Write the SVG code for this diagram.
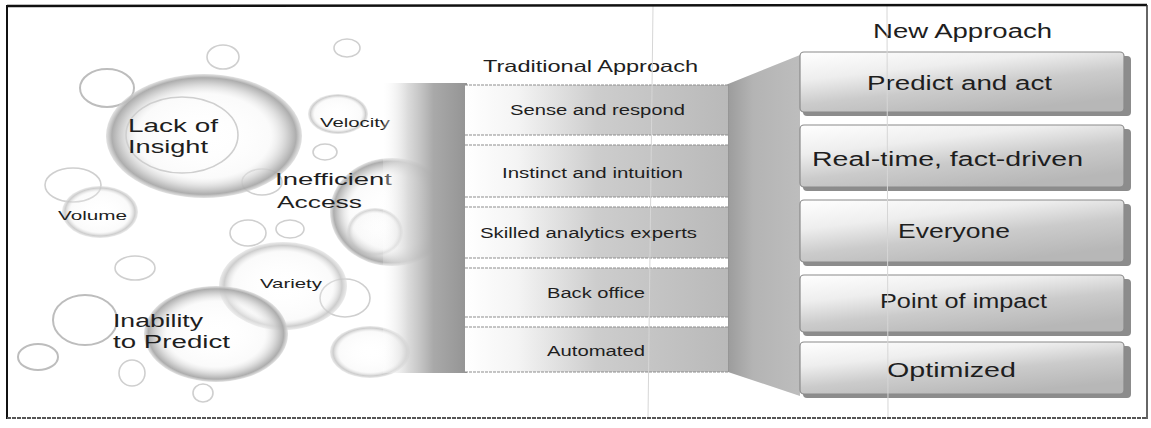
<svg xmlns="http://www.w3.org/2000/svg" width="1151" height="428" viewBox="0 0 1151 428">
<style>
  .t { font-family: "Liberation Sans", Arial, sans-serif; fill: #1e1e1e; }
  .ring { fill: none; stroke: #bdbdbd; stroke-width: 2; }
  .ringl { fill: none; stroke: #cfcfcf; stroke-width: 1.6; }
  .row { fill: url(#rowGrad); }
  .rowedge { stroke: #8d8d8d; stroke-width: 1; stroke-dasharray: 3 1; }
  .box { fill: url(#boxGrad); stroke: #8a8a8a; stroke-width: 1.2; }
  .boxshadow { fill: #8c8c8c; }
</style>
<defs>
  <radialGradient id="gloss" cx="0.5" cy="0.5" r="0.5">
    <stop offset="0" stop-color="#ffffff" stop-opacity="0"/>
    <stop offset="0.68" stop-color="#f2f2f2" stop-opacity="0.35"/>
    <stop offset="0.84" stop-color="#cdcdcd" stop-opacity="0.85"/>
    <stop offset="0.94" stop-color="#a9a9a9" stop-opacity="0.95"/>
    <stop offset="1" stop-color="#d6d6d6" stop-opacity="0.7"/>
  </radialGradient>
  <radialGradient id="softring" cx="0.5" cy="0.5" r="0.5">
    <stop offset="0" stop-color="#ffffff" stop-opacity="0"/>
    <stop offset="0.78" stop-color="#f0f0f0" stop-opacity="0.3"/>
    <stop offset="0.92" stop-color="#c4c4c4" stop-opacity="0.85"/>
    <stop offset="1" stop-color="#dddddd" stop-opacity="0.6"/>
  </radialGradient>
  <linearGradient id="leftWall" x1="0" y1="0" x2="1" y2="0">
    <stop offset="0" stop-color="#ffffff" stop-opacity="0.2"/>
    <stop offset="0.3" stop-color="#d4d4d4" stop-opacity="0.85"/>
    <stop offset="0.6" stop-color="#a9a9a9"/>
    <stop offset="1" stop-color="#949494"/>
  </linearGradient>
  <linearGradient id="rightWall" x1="0" y1="0" x2="1" y2="0">
    <stop offset="0" stop-color="#9c9c9c"/>
    <stop offset="0.35" stop-color="#b4b4b4"/>
    <stop offset="1" stop-color="#bdbdbd"/>
  </linearGradient>
  <linearGradient id="rowGrad" x1="0" y1="0" x2="1" y2="0">
    <stop offset="0" stop-color="#ffffff"/>
    <stop offset="0.2" stop-color="#f4f4f4"/>
    <stop offset="0.5" stop-color="#cdcdcd"/>
    <stop offset="1" stop-color="#b9b9b9"/>
  </linearGradient>
  <linearGradient id="boxGrad" x1="0" y1="0" x2="0.6" y2="1">
    <stop offset="0" stop-color="#ffffff"/>
    <stop offset="0.35" stop-color="#eeeeee"/>
    <stop offset="0.65" stop-color="#cbcbcb"/>
    <stop offset="1" stop-color="#b7b7b7"/>
  </linearGradient>
</defs>

<rect x="0" y="0" width="1151" height="428" fill="#ffffff"/>

<!-- bubble field -->
<g id="bubbles">
  <ellipse class="ring" cx="107" cy="88" rx="27" ry="19"/>
  <ellipse class="ringl" cx="223" cy="57" rx="16" ry="12"/>
  <ellipse class="ringl" cx="347" cy="48" rx="13" ry="9"/>
  <ellipse class="ringl" cx="73" cy="185" rx="28" ry="17"/>
  <ellipse class="ringl" cx="325" cy="152" rx="12" ry="8"/>
  <ellipse class="ringl" cx="262" cy="182" rx="20" ry="13"/>
  <ellipse class="ringl" cx="135" cy="268" rx="20" ry="12"/>
  <ellipse class="ringl" cx="248" cy="233" rx="18" ry="13"/>
  <ellipse class="ringl" cx="290" cy="229" rx="14" ry="9"/>
  <ellipse class="ring" cx="85" cy="320" rx="32" ry="25"/>
  <ellipse class="ring" cx="38" cy="357" rx="20" ry="13"/>
  <ellipse class="ringl" cx="132" cy="373" rx="13" ry="13"/>
  <ellipse class="ringl" cx="203" cy="393" rx="10" ry="9"/>
  <ellipse class="ringl" cx="345" cy="298" rx="25" ry="19"/>
  <ellipse fill="url(#softring)" cx="370" cy="352" rx="40" ry="26"/>
  <ellipse fill="url(#softring)" cx="375" cy="232" rx="28" ry="24"/>
</g>

<g id="node-volume">
  <ellipse fill="url(#softring)" cx="100" cy="212" rx="38" ry="26"/>
  <text class="t" x="58" y="220" font-size="13" textLength="69" lengthAdjust="spacingAndGlyphs">Volume</text>
</g>
<g id="node-velocity">
  <ellipse fill="url(#softring)" cx="338" cy="114" rx="30" ry="20"/>
  <text class="t" x="320" y="127" font-size="12.5" textLength="70" lengthAdjust="spacingAndGlyphs" fill="#333">Velocity</text>
</g>
<g id="node-variety">
  <ellipse fill="url(#softring)" cx="283" cy="286" rx="64" ry="44"/>
  <text class="t" x="260" y="288" font-size="13" textLength="62" lengthAdjust="spacingAndGlyphs">Variety</text>
</g>
<g id="node-lack-of-insight">
  <ellipse fill="url(#gloss)" cx="204" cy="136" rx="98" ry="62"/>
  <ellipse class="ringl" cx="182" cy="135" rx="56" ry="38"/>
  <text class="t" x="128" y="132" font-size="18" textLength="90" lengthAdjust="spacingAndGlyphs">Lack of</text>
  <text class="t" x="128" y="153" font-size="18" textLength="80" lengthAdjust="spacingAndGlyphs">Insight</text>
</g>
<g id="node-inefficient-access">
  <ellipse fill="url(#gloss)" cx="392" cy="212" rx="62" ry="54"/>
  <text class="t" x="275" y="185" font-size="17" textLength="117" lengthAdjust="spacingAndGlyphs">Inefficient</text>
  <text class="t" x="277" y="208" font-size="17" textLength="85" lengthAdjust="spacingAndGlyphs">Access</text>
</g>
<g id="node-inability-to-predict">
  <ellipse fill="url(#gloss)" cx="216" cy="334" rx="72" ry="48"/>
  <text class="t" x="113" y="327" font-size="18" textLength="90" lengthAdjust="spacingAndGlyphs">Inability</text>
  <text class="t" x="113" y="348" font-size="18" textLength="117" lengthAdjust="spacingAndGlyphs">to Predict</text>
</g>

<!-- left wall of traditional block -->
<g id="left-wall">
  <rect x="383" y="83" width="84" height="290" fill="url(#leftWall)"/>
</g>

<!-- connector: perspective wall toward new approach -->
<g id="connectors">
  <polygon points="728,84 800,55 800,396 728,372" fill="url(#rightWall)"/>
  <line x1="728" y1="84" x2="728" y2="372" stroke="#8f8f8f" stroke-width="1"/>
</g>

<!-- Traditional Approach -->
<g id="traditional-title">
  <text class="t" x="483" y="72" font-size="16.5" textLength="215" lengthAdjust="spacingAndGlyphs">Traditional Approach</text>
</g>
<g id="trad-gaps">
  <rect x="465" y="135" width="263" height="10" fill="#ffffff"/>
  <rect x="465" y="197" width="263" height="10" fill="#ffffff"/>
  <rect x="465" y="258" width="263" height="10" fill="#ffffff"/>
  <rect x="465" y="317" width="263" height="10" fill="#ffffff"/>
</g>
<g id="trad-1">
  <rect class="row" x="465" y="85" width="263" height="50"/>
  <line class="rowedge" x1="465" y1="85" x2="728" y2="85"/>
  <line class="rowedge" x1="465" y1="135" x2="728" y2="135"/>
  <text class="t" x="510" y="115" font-size="14" textLength="175" lengthAdjust="spacingAndGlyphs">Sense and respond</text>
</g>
<g id="trad-2">
  <rect class="row" x="465" y="145" width="263" height="52"/>
  <line class="rowedge" x1="465" y1="145" x2="728" y2="145"/>
  <line class="rowedge" x1="465" y1="197" x2="728" y2="197"/>
  <text class="t" x="502" y="178" font-size="14" textLength="181" lengthAdjust="spacingAndGlyphs">Instinct and intuition</text>
</g>
<g id="trad-3">
  <rect class="row" x="465" y="207" width="263" height="51"/>
  <line class="rowedge" x1="465" y1="207" x2="728" y2="207"/>
  <line class="rowedge" x1="465" y1="258" x2="728" y2="258"/>
  <text class="t" x="480" y="238" font-size="14" textLength="217" lengthAdjust="spacingAndGlyphs">Skilled analytics experts</text>
</g>
<g id="trad-4">
  <rect class="row" x="465" y="268" width="263" height="49"/>
  <line class="rowedge" x1="465" y1="268" x2="728" y2="268"/>
  <line class="rowedge" x1="465" y1="317" x2="728" y2="317"/>
  <text class="t" x="547" y="298" font-size="14" textLength="98" lengthAdjust="spacingAndGlyphs">Back office</text>
</g>
<g id="trad-5">
  <rect class="row" x="465" y="327" width="263" height="45"/>
  <line class="rowedge" x1="465" y1="327" x2="728" y2="327"/>
  <line class="rowedge" x1="465" y1="372" x2="728" y2="372"/>
  <text class="t" x="547" y="356" font-size="14" textLength="98" lengthAdjust="spacingAndGlyphs">Automated</text>
</g>

<!-- New Approach -->
<g id="new-title">
  <text class="t" x="873" y="38" font-size="20" textLength="179" lengthAdjust="spacingAndGlyphs">New Approach</text>
</g>
<g id="new-1">
  <rect class="boxshadow" x="803" y="56" width="328" height="60" rx="4"/>
  <rect class="box" x="800" y="52" width="324" height="60" rx="4"/>
  <text class="t" x="867" y="90" font-size="20" textLength="185" lengthAdjust="spacingAndGlyphs">Predict and act</text>
</g>
<g id="new-2">
  <rect class="boxshadow" x="803" y="129" width="328" height="62" rx="4"/>
  <rect class="box" x="800" y="125" width="324" height="62" rx="4"/>
  <text class="t" x="812" y="166" font-size="20" textLength="271" lengthAdjust="spacingAndGlyphs">Real-time, fact-driven</text>
</g>
<g id="new-3">
  <rect class="boxshadow" x="803" y="204" width="328" height="62" rx="4"/>
  <rect class="box" x="800" y="200" width="324" height="62" rx="4"/>
  <text class="t" x="898" y="238" font-size="20" textLength="112" lengthAdjust="spacingAndGlyphs">Everyone</text>
</g>
<g id="new-4">
  <rect class="boxshadow" x="803" y="279" width="328" height="57" rx="4"/>
  <rect class="box" x="800" y="275" width="324" height="57" rx="4"/>
  <text class="t" x="880" y="308" font-size="20" textLength="167" lengthAdjust="spacingAndGlyphs">Point of impact</text>
</g>
<g id="new-5">
  <rect class="boxshadow" x="803" y="346" width="328" height="52" rx="4"/>
  <rect class="box" x="800" y="342" width="324" height="52" rx="4"/>
  <text class="t" x="887" y="377" font-size="20" textLength="129" lengthAdjust="spacingAndGlyphs">Optimized</text>
</g>

<!-- faint scan lines and frame -->
<g id="frame">
  <line x1="653" y1="6" x2="648" y2="418" stroke="#d6d6d6" stroke-width="1"/>
  <line x1="887" y1="6" x2="888" y2="418" stroke="#d6d6d6" stroke-width="1"/>
  <line x1="7" y1="6" x2="1147" y2="5" stroke="#111" stroke-width="2.5"/>
  <line x1="7" y1="5" x2="7" y2="419" stroke="#111" stroke-width="2"/>
  <line x1="1147" y1="5" x2="1147" y2="419" stroke="#333" stroke-width="1.5"/>
  <line x1="7" y1="418" x2="1147" y2="418" stroke="#555" stroke-width="2" stroke-dasharray="4 1"/>
</g>
</svg>
